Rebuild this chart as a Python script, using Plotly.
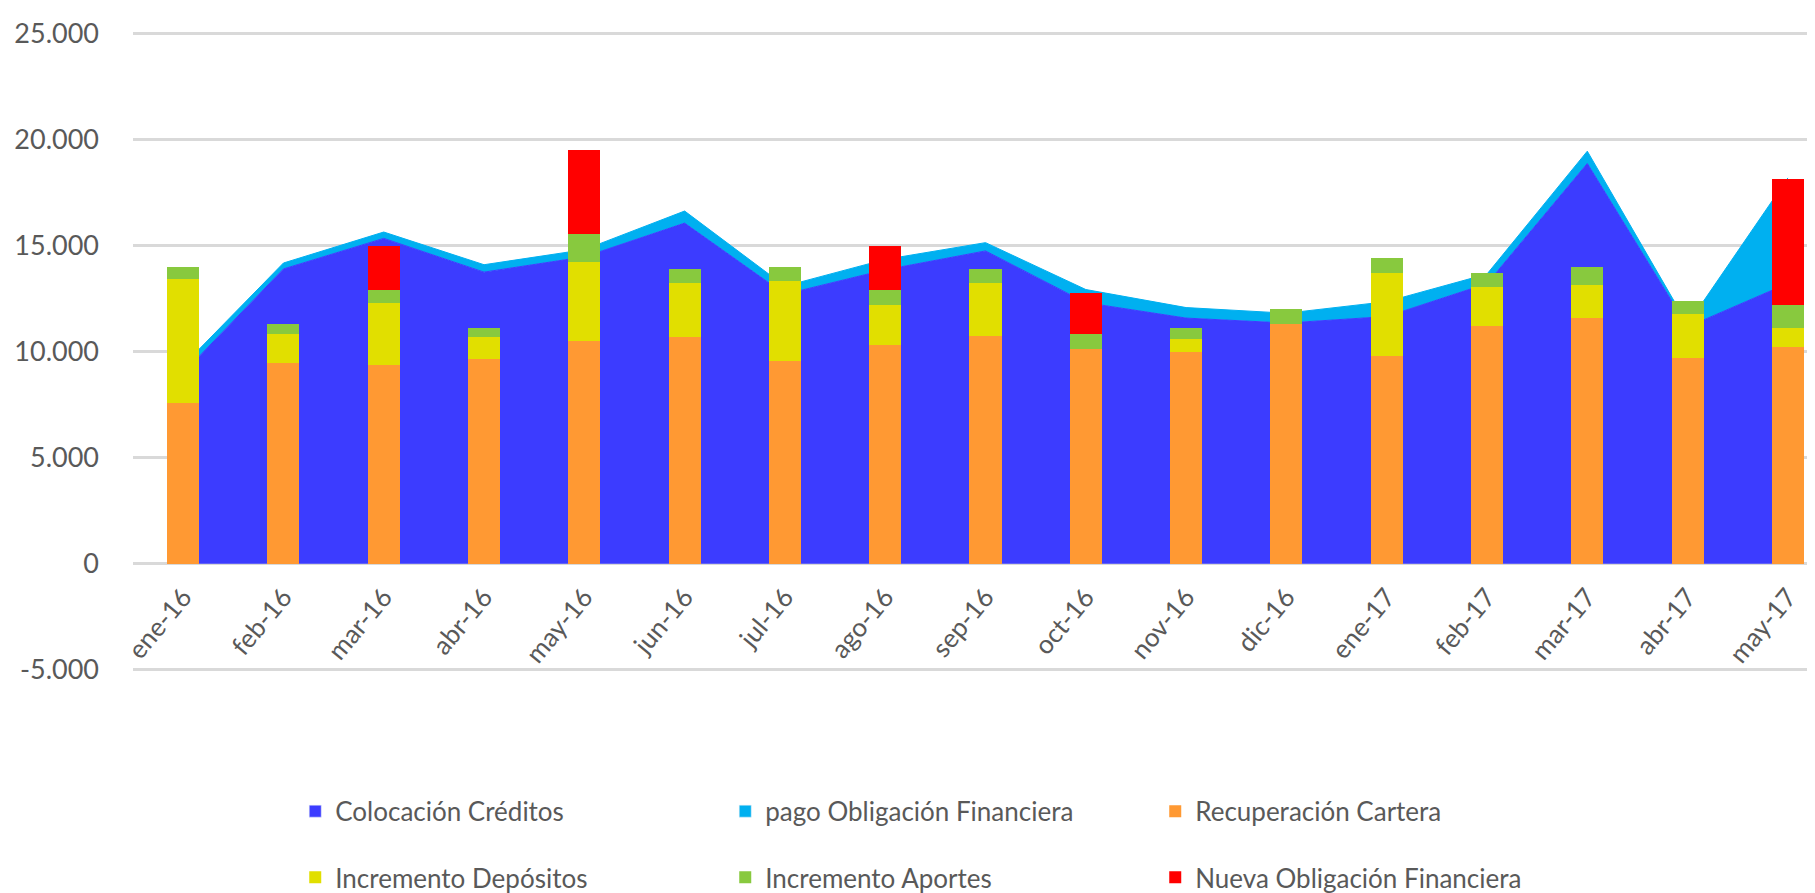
import plotly.graph_objects as go

# months on the category axis
months = ["ene-16", "feb-16", "mar-16", "abr-16", "may-16", "jun-16", "jul-16",
          "ago-16", "sep-16", "oct-16", "nov-16", "dic-16", "ene-17", "feb-17",
          "mar-17", "abr-17", "may-17"]

# stacked areas (outflows)
colocacion = [8990, 13890, 15330, 13740, 14460, 16050, 12700, 13850, 14740,
              12300, 11575, 11340, 11650, 13200, 18860, 11160, 13210]
pago_oblig = [350, 280, 300, 350, 340, 570, 380, 490, 390,
              620, 495, 465, 700, 450, 580, 120, 4970]

# stacked bars (inflows)
recuperacion = [7550, 9445, 9350, 9630, 10510, 10700, 9540, 10325, 10740,
                10140, 9955, 11300, 9770, 11200, 11575, 9680, 10230]
depositos = [5880, 1390, 2920, 1065, 3700, 2540, 3790, 1850, 2500,
             0, 650, 0, 3935, 1855, 1575, 2080, 880]
aportes = [555, 460, 650, 415, 1345, 650, 650, 740, 650,
           695, 510, 695, 695, 650, 835, 600, 1065]
nueva_oblig = [0, 0, 2050, 0, 3935, 0, 0, 2040, 0,
               1900, 0, 0, 0, 0, 0, 0, 5970]

y_ticks = [-5000, 0, 5000, 10000, 15000, 20000, 25000]
y_tick_labels = ["-5.000", "0", "5.000", "10.000", "15.000", "20.000", "25.000"]

C_BLUE = "#3C3CFF"
C_CYAN = "#00B0F0"
C_ORANGE = "#FF9933"
C_YELLOW = "#E1DF00"
C_GREEN = "#88C93E"
C_RED = "#FF0000"
GRAY = "#595959"
FONT = "Lato"

fig = go.Figure()

# areas on the base subplot
fig.add_trace(go.Scatter(x=months, y=colocacion, name="Colocación Créditos",
                         stackgroup="one", mode="lines",
                         line=dict(color=C_BLUE, width=1), fillcolor=C_BLUE,
                         showlegend=False, xaxis="x", yaxis="y"))
fig.add_trace(go.Scatter(x=months, y=pago_oblig, name="pago Obligación Financiera",
                         stackgroup="one", mode="lines",
                         line=dict(color=C_CYAN, width=1), fillcolor=C_CYAN,
                         showlegend=False, xaxis="x", yaxis="y"))

# bars on an overlaid x axis so they sit in front of the areas
bar_series = [
    ("Recuperación Cartera", recuperacion, C_ORANGE, "legend", 3),
    ("Incremento Depósitos", depositos, C_YELLOW, "legend2", 4),
    ("Incremento Aportes", aportes, C_GREEN, "legend2", 5),
    ("Nueva Obligación Financiera", nueva_oblig, C_RED, "legend2", 6),
]
for name, vals, col, leg, rank in bar_series:
    fig.add_trace(go.Bar(x=months, y=vals, name=name, marker_color=col,
                         marker_line_width=0, width=0.32,
                         legend=leg, legendrank=rank, xaxis="x2", yaxis="y"))

# legend-only entries for the area series (square swatches like the bars)
for name, col, rank in [("Colocación Créditos", C_BLUE, 1),
                        ("pago Obligación Financiera", C_CYAN, 2)]:
    fig.add_trace(go.Bar(x=[months[0]], y=[None], name=name, marker_color=col,
                         legend="legend", legendrank=rank, xaxis="x2", yaxis="y"))

x_range = [-0.5, 16.35]
# a little padding so the -5.000 and 25.000 gridlines are not clipped
y_range = [-5150, 25150]
legend_style = dict(orientation="h", xanchor="left", yanchor="middle",
                    entrywidth=385, entrywidthmode="pixels",
                    font=dict(family=FONT, size=26, color=GRAY),
                    bgcolor="rgba(0,0,0,0)", itemwidth=30, traceorder="normal")

fig.update_layout(
    width=1815, height=893,
    margin=dict(l=125, r=0, t=22, b=217),
    plot_bgcolor="white", paper_bgcolor="white",
    barmode="stack",
    font=dict(family=FONT, color=GRAY),
    xaxis=dict(type="category", categoryarray=months, range=x_range,
               anchor="free",
               position=(0 - y_range[0]) / (y_range[1] - y_range[0]),
               showgrid=False, zeroline=False, showline=False, ticks="",
               tickangle=-50, ticklabelstandoff=12,
               tickfont=dict(family=FONT, size=26, color=GRAY)),
    xaxis2=dict(type="category", categoryarray=months, range=x_range,
                overlaying="x", visible=False),
    yaxis=dict(range=y_range, tickvals=y_ticks, ticktext=y_tick_labels,
               showgrid=True, gridcolor="#D9D9D9", gridwidth=3,
               zeroline=True, zerolinecolor="#D9D9D9", zerolinewidth=3,
               showline=False, ticks="", ticklabelstandoff=33,
               tickfont=dict(family=FONT, size=27, color=GRAY)),
    legend=dict(x=0.096, y=-0.215, **legend_style),
    legend2=dict(x=0.096, y=-0.318, **legend_style),
)

fig.write_html("out.html")
